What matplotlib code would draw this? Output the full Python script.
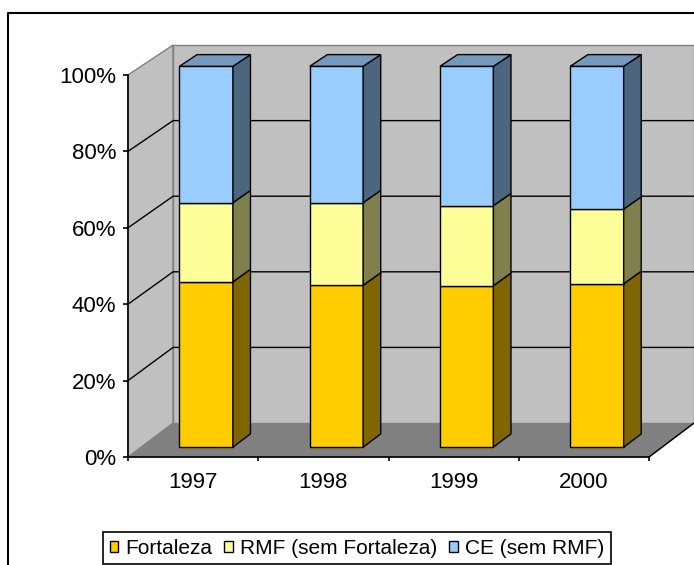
import matplotlib
matplotlib.use('Agg')
import matplotlib.pyplot as plt
from matplotlib.patches import Polygon, Patch
from matplotlib.lines import Line2D

plt.rcParams['font.family'] = ['Liberation Sans', 'DejaVu Sans']

# share of each area per year (%)
years = ['1997', '1998', '1999', '2000']
fortaleza = [43.4, 42.5, 42.4, 42.9]
rmf = [20.8, 21.7, 21.0, 19.6]
ce = [35.8, 35.8, 36.6, 37.5]
series_names = ['Fortaleza', 'RMF (sem Fortaleza)', 'CE (sem RMF)']
pct_ticks = [0, 20, 40, 60, 80, 100]
pct_labels = ['0%', '20%', '40%', '60%', '80%', '100%']

front_cols = ['#FFCC00', '#FFFF99', '#99CCFF']
side_cols = ['#806600', '#80804C', '#4C6680']
top_col = '#7399BF'
wall_col = '#C0C0C0'
floor_col = '#808080'

# oblique projection for the fake 3d box, depth z runs 0 (front) .. 1 (back)
DX, DY, SH = 0.346, 0.089, 0.0105
def proj(x, y, z):
    return (x + z * DX, y * (1 - z * SH) + z * DY)

def face(ax, pts, fc, ec='black', lw=1.0, zorder=3):
    ax.add_patch(Polygon([proj(*p) for p in pts], closed=True, facecolor=fc,
                         edgecolor=ec, linewidth=lw, zorder=zorder, clip_on=False))

fig = plt.figure(figsize=(6.94, 5.65), dpi=100)
ax = fig.add_axes([128 / 694, 108 / 565, 521 / 694, 382 / 565])
ax.set_xlim(0, len(years))
ax.set_ylim(0, 1)
ax.patch.set_visible(False)
nx = len(years)

# walls and floor
face(ax, [(0, 0, 0), (nx, 0, 0), (nx, 0, 1), (0, 0, 1)], floor_col, ec='#808080', zorder=1)
face(ax, [(0, 0, 0), (0, 0, 1), (0, 1, 1), (0, 1, 0)], wall_col, ec='#808080', zorder=1)
face(ax, [(0, 0, 1), (nx, 0, 1), (nx, 1, 1), (0, 1, 1)], wall_col, ec='#808080', zorder=1)
for t in pct_ticks[1:-1]:
    g = t / 100
    xs, ys = zip(proj(0, g, 0), proj(0, g, 1), proj(nx, g, 1))
    ax.plot(xs, ys, color='black', lw=1.0, zorder=2, clip_on=False)
xs, ys = zip(proj(nx, 0, 0), proj(nx, 0, 1))
ax.plot(xs, ys, color='black', lw=1.0, zorder=2, clip_on=False)

# stacked 100% columns
z0, z1 = 0.29, 0.68
bw = 0.41
for i in range(nx):
    vals = [fortaleza[i], rmf[i], ce[i]]
    total = sum(vals)
    xl, xr = i + 0.5 - bw / 2, i + 0.5 + bw / 2
    b = 0.0
    for k, v in enumerate(vals):
        h = v / total
        face(ax, [(xl, b, z0), (xr, b, z0), (xr, b + h, z0), (xl, b + h, z0)], front_cols[k])
        face(ax, [(xr, b, z0), (xr, b, z1), (xr, b + h, z1), (xr, b + h, z0)], side_cols[k])
        b += h
    face(ax, [(xl, b, z0), (xr, b, z0), (xr, b, z1), (xl, b, z1)], top_col)

# axes
for s in ['top', 'right']:
    ax.spines[s].set_visible(False)
for s in ['left', 'bottom']:
    ax.spines[s].set_linewidth(1.2)
    ax.spines[s].set_zorder(5)
ax.set_yticks([t / 100 for t in pct_ticks])
ax.set_yticklabels(pct_labels, fontsize=16)
ax.tick_params(axis='y', direction='out', length=3.6, width=1.2, pad=5)
ax.set_xticks(range(nx + 1))
ax.set_xticklabels([])
ax.set_xticks([i + 0.5 for i in range(nx)], minor=True)
ax.set_xticklabels(years, minor=True, fontsize=16)
ax.tick_params(axis='x', which='major', direction='out', length=3, width=1.2)
ax.tick_params(axis='x', which='minor', length=0, pad=11)

# chart area frame (left and top edges)
fig.add_artist(Line2D([8 / 694, 8 / 694, 1.0], [0.0, 552 / 565, 552 / 565],
                      transform=fig.transFigure, color='black', lw=1.5))

handles = [Patch(facecolor=c, edgecolor='black', linewidth=1.0) for c in front_cols]
leg = fig.legend(handles, series_names, loc='upper left', ncol=3,
                 bbox_to_anchor=(103 / 694, 33 / 565), fontsize=15,
                 frameon=True, fancybox=False, edgecolor='black', framealpha=1,
                 handlelength=0.42, handleheight=0.42, handletextpad=0.35,
                 columnspacing=0.55, borderpad=0.32, borderaxespad=0)
leg.get_frame().set_linewidth(1.2)

fig.savefig('out.png', dpi=100)
